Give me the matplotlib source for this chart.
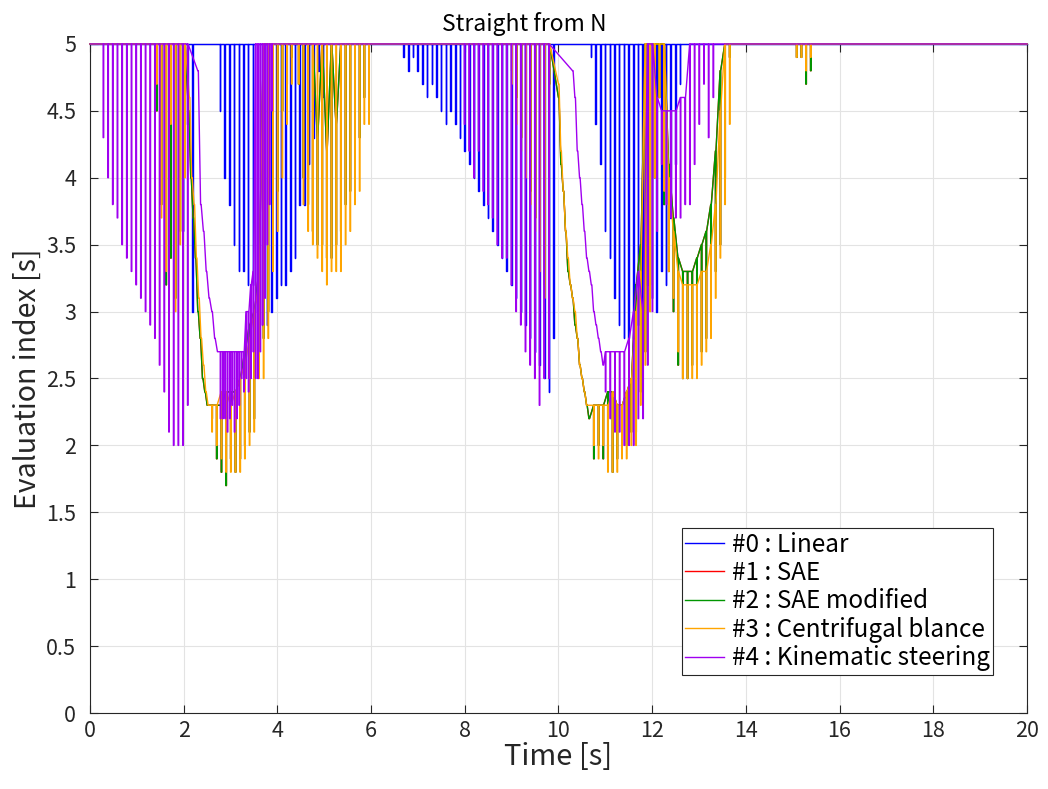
import matplotlib
matplotlib.use('Agg')
import matplotlib.pyplot as plt

plt.rcParams['font.family'] = ['Noto Sans CJK JP', 'DejaVu Sans']

# each run: (start time, step, base value(s) or None for a staircase, tip values)
labels = ['#0 : Linear', '#1 : SAE', '#2 : SAE modified',
          '#3 : Centrifugal blance', '#4 : Kinematic steering']
colors = ['#0000ff', '#ff0000', '#009600', '#ffa500', '#a000f0']

linear_runs = [
    (1.98, 0.1, 5, [3.6, 4.4, 3.0]),
    (2.77, 0.1, 5,
     [4.5, 4.0, 3.8, 3.5, 3.3, 3.3, 3.2, 3.2, 3.0, 2.9, 2.9, 3.0, 3.1, 3.2, 3.2, 3.3, 3.4, 3.8, 3.8, 4.1, 4.3, 4.8, 4.6]),
    (6.69, 0.1, 5,
     [4.9, 4.8, 4.9, 4.8, 4.7, 4.6, 4.7, 4.6, 4.5, 4.4, 4.5, 4.4, 4.3, 4.2, 4.1, 4.0, 3.9,
      3.8, 3.7, 3.6, 3.5, 3.4, 3.3, 3.2, 3.1, 3.0, 2.9, 2.8, 2.7, 2.6, 2.5, 2.4, 2.8]),
    (10.69, 0.1, 5,
     [4.9, 4.4, 4.1, 3.6, 3.4, 3.1, 2.9, 2.8, 2.8, 2.8, 2.9, 3.0, 3.2, 3.1, 3.0, 3.3, 3.2, 3.7, 4.1, 4.7]),
]

sae_mod_runs = [
    (1.42, 0.1, 5, [4.5, 3.8, 3.2, 3.4, 3.1, 3.6, 4.1]),
    (2.10, 0.05, None, [4.5, 4.0, 3.7, 3.4, 3.0, 2.8, 2.5, 2.4, 2.3]),
    (2.60, 0.1, [2.3, 2.3, 2.3, 2.4, 2.4, 2.4, 2.5, 2.7, 2.9, 3.0, 3.3],
     [2.2, 1.9, 1.8, 1.7, 1.9, 1.8, 1.9, 2.0, 2.1, 2.2, 2.6]),
    (3.70, 0.1, 5, [2.8, 3.0, 3.5, 3.9, 4.5, 4.7, 4.9]),
    (4.45, 0.1, [5, 5, 5, 5, 4.3, 5, 4.2, 5, 4.4, 5, 5, 5, 5, 5, 5, 5],
     [4.7, 4.0, 3.8, 3.6, 3.5, 3.5, 3.4, 3.4, 3.5, 3.6, 3.8, 3.9, 4.0, 4.3, 4.6, 5]),
    (9.0, 0.1, 5, [4.8, 4.6, 4.3, 4.1, 3.9, 3.7, 3.4, 3.2, 4.7]),
    (10.0, 0.05, None, [4.6, 4.1, 3.9, 3.6, 3.3, 3.2, 3.1, 2.9, 2.8, 2.6, 2.5, 2.4, 2.3, 2.2]),
    (10.75, 0.1, [2.3, 2.3, 2.3, 2.4, 2.4, 2.3, 2.3, 2.4, 2.5],
     [1.9, 2.0, 1.9, 1.9, 1.8, 1.9, 2.0, 2.0, 2.1]),
    (11.65, 0.1, [3.2, 3.5, 5], [2.1, 2.4, 2.7]),
    (11.95, 0.1, [5, 5, 5, 5, 4.1, 3.7, 3.4, 3.3, 3.3, 3.3, 3.4, 3.5, 3.6, 3.8, 4.2, 4.8, 5, 5],
     [3.2, 4.0, 4.6, 3.8, 3.3, 3.0, 2.6, 2.5, 2.5, 2.6, 2.6, 2.7, 2.8, 3.0, 3.3, 3.5, 4.0, 4.9]),
    (15.08, 0.1, 5, [4.9, 4.9, 4.7, 4.8]),
]

# SAE lies under SAE modified in the reference
sae_runs = sae_mod_runs

centrifugal_runs = [
    (1.42, 0.1, 5, [4.7, 3.7, 3.3, 4.4, 3.0, 3.5, 4.0]),
    (2.12, 0.05, None, [4.6, 4.0, 3.8, 3.4, 3.1, 2.8, 2.6, 2.4, 2.3]),
    (2.60, 0.1, [2.3, 2.3, 2.4, 2.4, 2.3, 2.4, 2.5, 2.6, 2.8, 3.0, 3.2],
     [2.1, 2.0, 1.9, 1.8, 1.8, 1.8, 1.8, 1.9, 2.0, 2.1, 2.5]),
    (3.70, 0.1, 5, [2.5, 2.8, 3.3, 3.6, 4.0, 4.4, 4.7]),
    (4.45, 0.1, 5,
     [4.7, 3.8, 3.6, 3.5, 3.4, 3.3, 3.2, 3.3, 3.3, 3.3, 3.5, 3.6, 3.8, 3.9, 4.4, 4.4]),
    (9.0, 0.1, 5, [4.7, 4.4, 4.2, 4.0, 3.8, 3.6, 3.3, 3.1, 4.6]),
    (10.0, 0.05, None, [4.7, 4.2, 3.9, 3.6, 3.4, 3.2, 3.1, 3.0, 2.8, 2.6, 2.5, 2.4, 2.3, 2.3]),
    (10.75, 0.1, [2.3, 2.3, 2.3, 2.3, 2.4, 2.3, 2.3, 2.4, 2.5],
     [2.0, 1.9, 2.0, 1.8, 1.8, 1.8, 1.9, 1.9, 2.0]),
    (11.65, 0.1, [3.0, 3.3, 5], [2.0, 2.3, 2.6]),
    (11.95, 0.1, [5, 5, 5, 5, 4.0, 3.6, 3.3, 3.2, 3.2, 3.2, 3.2, 3.3, 3.3, 3.5, 3.8, 4.5, 5, 5],
     [3.0, 4.0, 4.6, 3.9, 3.3, 3.1, 2.7, 2.5, 2.5, 2.5, 2.5, 2.6, 2.7, 2.8, 3.1, 3.4, 3.8, 4.4]),
    (15.08, 0.1, 5, [4.9, 4.9, 4.8, 4.9]),
]

kinematic_runs = [
    (0.28, 0.1, 5, [4.3, 4.0, 3.8, 3.7, 3.5, 3.4, 3.3, 3.2, 3.1, 3.0, 2.9, 2.8, 2.6, 2.4, 2.1, 2.0, 2.0, 2.0, 2.3]),
    (2.30, 0.06, None, [4.8, 3.8, 3.6, 3.3, 3.1, 3.0, 2.8, 2.7]),
    (2.78, 0.05, 2.7, [2.2, 2.2, 2.2, 2.1, 2.2, 2.3, 2.1, 2.2, 2.3, 2.5, 2.4]),
    (3.33, 0.05, [3.0, 3.0, 3.2, 3.3, 5, 5, 5, 5, 5, 5, 5, 5],
     [2.5, 2.4, 2.5, 2.7, 2.5, 2.5, 2.7, 2.9, 3.1, 3.5, 3.8, 4.5]),
    (7.99, 0.1, 5, [4.4, 4.2, 4.0, 4.2, 3.9, 3.8, 3.7, 3.5, 3.4, 3.4, 3.2, 3.0, 2.9, 2.7, 2.6, 2.5, 2.3, 2.5, 2.5]),
    (10.30, 0.05, None, [4.8, 4.6, 4.2, 4.0, 3.8, 3.6, 3.4, 3.3, 3.2, 3.0, 2.9, 2.8, 2.7, 2.6]),
    (11.0, 0.1, [2.7, 2.7, 2.7, 2.7, 2.7, 2.8, 3.0, 3.3], [2.4, 2.2, 2.1, 2.1, 2.0, 2.0, 2.0, 2.2]),
    (11.8, 0.1, [3.0, 5, 5, 4.6, 4.5, 4.5, 4.5, 4.5, 4.6, 4.6, 5, 5, 5, 5, 5, 5],
     [2.2, 2.6, 3.0, 3.6, 4.1, 3.8, 3.7, 3.7, 3.7, 3.8, 3.8, 4.1, 4.4, 4.7, 4.3, 4.6]),
]

x_ticks = list(range(0, 21, 2))
y_ticks = [0, 0.5, 1, 1.5, 2, 2.5, 3, 3.5, 4, 4.5, 5]


def trace(runs, w=0.012):
    ts, ys = [0.0], [5.0]
    for t0, dt, hi, lo in runs:
        if hi is None:
            base = lo
        elif isinstance(hi, list):
            base = hi
        else:
            base = [hi] * len(lo)
        for k in range(len(lo)):
            tk = t0 + k * dt
            ts += [tk, tk, tk + w, tk + w]
            ys += [base[k], lo[k], lo[k], base[k]]
    ts.append(20.0)
    ys.append(5.0)
    return ts, ys


fig = plt.figure(figsize=(10.48, 7.89), dpi=100)
ax = fig.add_axes([0.0859, 0.0963, 0.894, 0.848])

all_runs = [linear_runs, sae_runs, sae_mod_runs, centrifugal_runs, kinematic_runs]
for runs, c, lab in zip(all_runs, colors, labels):
    ts, ys = trace(runs)
    ax.plot(ts, ys, color=c, lw=1.0, label=lab, clip_on=False, zorder=3)

ax.set_xlim(0, 20)
ax.set_ylim(0, 5)
ax.set_xticks(x_ticks)
ax.set_yticks(y_ticks)
ax.set_yticklabels([f'{v:g}' for v in y_ticks])
ax.tick_params(direction='in', length=6, width=0.8, top=True, right=True,
               labelsize=15.5, colors='#262626')
ax.tick_params(axis='y', pad=10)
ax.tick_params(axis='x', pad=5)
ax.grid(True, color='#e3e3e3', lw=0.8)
ax.set_axisbelow(True)
for s in ax.spines.values():
    s.set_color('#262626')
    s.set_linewidth(0.8)

ax.set_xlabel('Time [s]', fontsize=21, color='#262626', labelpad=0)
ax.set_ylabel('Evaluation index [s]', fontsize=20.5, color='#262626', labelpad=2)
fig.text(0.5, 0.955, 'Straight from N', fontsize=16.5, ha='center', va='bottom')

leg = ax.legend(loc='lower right', bbox_to_anchor=(0.964, 0.057), borderaxespad=0,
                fontsize=17.5, handlelength=1.6, handletextpad=0.3, labelspacing=0.1,
                borderpad=0.15, fancybox=False, framealpha=1, edgecolor='#262626')
leg.get_frame().set_linewidth(0.8)

plt.savefig('out.png', dpi=100)
